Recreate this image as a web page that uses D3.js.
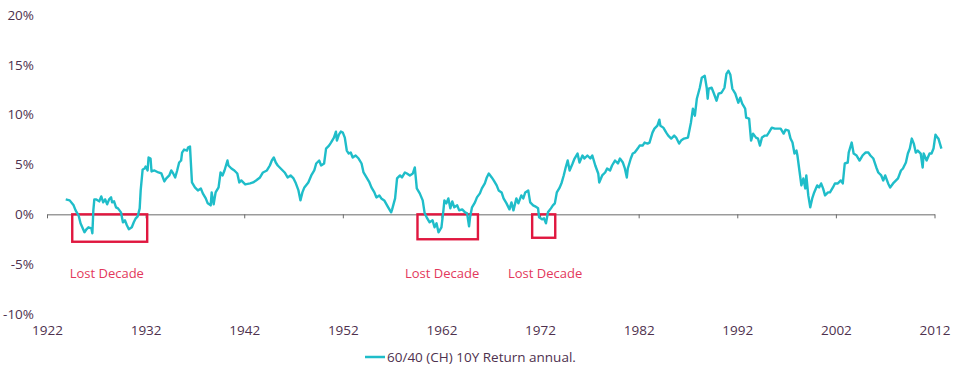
<!DOCTYPE html>
<html>
<head>
<meta charset="utf-8">
<script src="https://cdn.jsdelivr.net/npm/d3@7"></script>
<style>
  body { margin: 0; background: #fff; }
  text { font-family: "Open Sans", sans-serif; }
</style>
</head>
<body>
<div id="chart"></div>
<script>
var width = 960;
var height = 374;

var xTicks = [1922, 1932, 1942, 1952, 1962, 1972, 1982, 1992, 2002, 2012];
var yTicks = [-10, -5, 0, 5, 10, 15, 20];

// 60/40 (CH) 10Y rolling annual return
var years = [
  1923.9, 1924.3, 1924.7, 1924.9, 1925.2, 1925.4, 1925.8, 1926.0, 1926.2, 1926.5,
  1926.6, 1926.7, 1926.8, 1927.0, 1927.3, 1927.5, 1927.7, 1927.9, 1928.1, 1928.3,
  1928.5, 1928.6, 1928.8, 1929.0, 1929.2, 1929.5, 1929.7, 1929.9, 1930.1, 1930.3,
  1930.6, 1930.8, 1931.0, 1931.2, 1931.4, 1931.5, 1931.7, 1931.9, 1932.0, 1932.2,
  1932.3, 1932.5, 1932.6, 1932.9, 1933.3, 1933.6, 1933.9, 1934.1, 1934.4, 1934.6,
  1934.8, 1935.0, 1935.2, 1935.4, 1935.6, 1935.7, 1935.9, 1936.2, 1936.3, 1936.5,
  1936.7, 1937.0, 1937.3, 1937.6, 1937.8, 1938.1, 1938.3, 1938.6, 1938.7, 1938.9,
  1939.1, 1939.4, 1939.6, 1939.8, 1940.0, 1940.3, 1940.4, 1940.7, 1941.0, 1941.3,
  1941.5, 1941.7, 1942.1, 1942.6, 1942.9, 1943.2, 1943.6, 1943.9, 1944.3, 1944.6,
  1944.8, 1945.0, 1945.2, 1945.4, 1945.7, 1946.1, 1946.4, 1946.7, 1947.0, 1947.2,
  1947.5, 1947.7, 1947.9, 1948.1, 1948.5, 1948.8, 1949.1, 1949.3, 1949.6, 1949.8,
  1950.1, 1950.3, 1950.6, 1950.8, 1951.1, 1951.3, 1951.4, 1951.6, 1951.8, 1952.0,
  1952.2, 1952.4, 1952.6, 1952.8, 1953.0, 1953.3, 1953.6, 1953.9, 1954.1, 1954.4,
  1954.7, 1954.9, 1955.2, 1955.4, 1955.7, 1955.9, 1956.2, 1956.6, 1956.9, 1957.0,
  1957.3, 1957.5, 1957.8, 1958.0, 1958.3, 1958.5, 1958.8, 1959.1, 1959.3, 1959.5,
  1959.8, 1960.1, 1960.3, 1960.5, 1960.8, 1961.1, 1961.3, 1961.5, 1961.7, 1962.0,
  1962.2, 1962.3, 1962.5, 1962.7, 1962.9, 1963.1, 1963.3, 1963.6, 1963.8, 1964.1,
  1964.4, 1964.6, 1964.8, 1964.9, 1965.1, 1965.4, 1965.6, 1965.9, 1966.1, 1966.4,
  1966.6, 1966.8, 1967.1, 1967.3, 1967.6, 1967.8, 1968.1, 1968.3, 1968.6, 1968.9,
  1969.1, 1969.3, 1969.6, 1969.8, 1970.1, 1970.3, 1970.5, 1970.8, 1971.0, 1971.3,
  1971.5, 1971.8, 1971.9, 1972.2, 1972.4, 1972.6, 1972.8, 1973.1, 1973.3, 1973.5,
  1973.7, 1974.0, 1974.2, 1974.4, 1974.6, 1974.8, 1975.0, 1975.3, 1975.5, 1975.8,
  1976.0, 1976.3, 1976.5, 1976.8, 1977.1, 1977.3, 1977.6, 1977.9, 1978.0, 1978.3,
  1978.6, 1978.8, 1979.1, 1979.3, 1979.6, 1979.9, 1980.1, 1980.4, 1980.6, 1980.8,
  1980.9, 1981.2, 1981.4, 1981.6, 1981.9, 1982.1, 1982.4, 1982.6, 1982.9, 1983.1,
  1983.4, 1983.6, 1983.9, 1984.1, 1984.2, 1984.5, 1984.8, 1985.0, 1985.3, 1985.6,
  1985.8, 1986.1, 1986.3, 1986.6, 1987.0, 1987.3, 1987.5, 1987.7, 1987.9, 1988.2,
  1988.4, 1988.7, 1988.9, 1989.0, 1989.1, 1989.4, 1989.6, 1989.9, 1990.1, 1990.4,
  1990.7, 1990.9, 1991.1, 1991.3, 1991.5, 1991.8, 1992.1, 1992.3, 1992.5, 1992.8,
  1992.9, 1993.2, 1993.4, 1993.6, 1993.9, 1994.1, 1994.3, 1994.5, 1994.8, 1995.0,
  1995.2, 1995.5, 1995.8, 1996.2, 1996.4, 1996.7, 1996.9, 1997.2, 1997.4, 1997.6,
  1997.8, 1998.0, 1998.1, 1998.3, 1998.5, 1998.7, 1998.9, 1999.0, 1999.2, 1999.4,
  1999.6, 1999.8, 2000.1, 2000.3, 2000.5, 2000.7, 2000.9, 2001.2, 2001.4, 2001.7,
  2001.9, 2002.2, 2002.5, 2002.7, 2002.9, 2003.2, 2003.3, 2003.6, 2003.8, 2004.1,
  2004.4, 2004.7, 2005.0, 2005.3, 2005.5, 2005.8, 2006.1, 2006.3, 2006.6, 2006.8,
  2007.0, 2007.3, 2007.5, 2007.8, 2008.1, 2008.3, 2008.6, 2008.8, 2009.1, 2009.3,
  2009.5, 2009.7, 2009.9, 2010.1, 2010.3, 2010.6, 2010.8, 2010.9, 2011.2, 2011.5,
  2011.7, 2011.9, 2012.1, 2012.3, 2012.4, 2012.7
];
var returns = [
  1.5, 1.4, 0.9, 0.4, -0.1, -0.9, -1.8, -1.5, -1.3, -1.4,
  -1.9, 0.4, 1.5, 1.5, 1.3, 1.8, 1.2, 1.5, 1.0, 1.5,
  1.7, 1.2, 1.3, 0.7, 0.6, 0.2, -0.8, -0.6, -1.1, -1.5,
  -1.3, -0.8, -0.4, -0.2, 0.6, 2.4, 4.5, 4.6, 4.8, 4.4,
  5.7, 5.6, 4.3, 4.4, 4.2, 4.1, 3.3, 3.6, 3.9, 4.4,
  4.1, 3.7, 4.4, 5.2, 5.4, 6.2, 6.5, 6.4, 6.7, 6.8,
  3.2, 2.7, 2.4, 2.6, 2.1, 1.6, 1.1, 0.9, 2.2, 1.0,
  2.2, 2.7, 4.2, 3.9, 4.4, 5.4, 4.9, 4.6, 4.4, 4.1,
  3.2, 3.4, 3.0, 3.1, 3.2, 3.4, 3.7, 4.2, 4.4, 4.9,
  5.4, 5.7, 5.2, 4.9, 4.6, 4.2, 3.7, 3.9, 3.6, 3.2,
  2.4, 1.4, 2.2, 2.7, 3.2, 3.9, 4.4, 5.1, 5.4, 4.9,
  5.1, 6.6, 6.9, 7.2, 7.7, 8.3, 7.4, 8.0, 8.3, 8.2,
  7.7, 6.4, 6.1, 6.2, 5.7, 5.9, 5.6, 5.1, 4.2, 3.7,
  3.2, 2.7, 2.2, 1.7, 1.9, 1.6, 1.4, 0.7, 0.2, 0.5,
  1.6, 3.6, 3.9, 3.7, 4.2, 4.1, 3.9, 4.1, 4.7, 2.6,
  2.1, 1.4, 0.1, -0.3, -0.8, -0.6, -1.3, -0.9, -1.8, -1.3,
  0.4, 1.4, 1.1, 1.6, 0.6, 1.3, 0.7, 0.9, 0.4, 0.5,
  0.2, 0.1, -1.2, -0.3, 0.7, 1.2, 1.7, 2.1, 2.6, 3.1,
  3.7, 4.1, 3.7, 3.4, 2.9, 2.4, 2.2, 1.6, 1.1, 0.5,
  1.2, 0.4, 1.6, 1.1, 1.9, 1.6, 2.2, 2.4, 1.2, 0.9,
  0.8, 0.6, -0.3, -0.5, -0.4, -0.9, 0.2, 0.6, 0.9, 1.1,
  2.2, 2.7, 3.2, 3.9, 4.7, 5.4, 4.4, 5.1, 5.6, 6.1,
  5.2, 5.9, 5.6, 5.9, 5.6, 5.9, 4.9, 4.1, 3.2, 3.9,
  4.2, 4.6, 4.4, 4.9, 5.4, 5.1, 5.6, 5.2, 4.6, 3.7,
  4.6, 5.6, 6.1, 6.2, 6.6, 6.9, 6.9, 7.2, 7.1, 7.2,
  8.2, 8.6, 8.9, 9.5, 8.9, 8.7, 8.2, 7.9, 7.6, 7.9,
  7.7, 7.1, 7.4, 7.6, 7.7, 9.2, 10.6, 9.9, 11.6, 12.7,
  13.7, 13.9, 12.7, 11.6, 12.6, 12.7, 12.2, 11.4, 12.1, 12.2,
  12.7, 14.1, 14.4, 14.0, 12.6, 12.1, 11.2, 11.7, 11.1, 10.6,
  9.7, 9.6, 7.4, 8.1, 7.7, 7.6, 6.9, 7.7, 7.9, 7.9,
  8.2, 8.7, 8.6, 8.6, 8.6, 8.1, 8.5, 8.4, 7.6, 7.2,
  6.1, 6.4, 5.9, 4.4, 2.9, 3.6, 2.6, 3.9, 1.9, 0.7,
  1.6, 2.2, 2.9, 2.7, 3.1, 2.6, 1.9, 2.2, 2.2, 2.7,
  3.1, 3.1, 3.4, 3.1, 5.1, 5.2, 6.2, 7.2, 6.1, 5.9,
  5.4, 5.9, 6.2, 6.2, 5.9, 5.6, 4.7, 4.2, 3.9, 3.4,
  3.9, 3.1, 2.7, 3.1, 3.4, 3.6, 4.4, 4.6, 5.2, 6.1,
  6.6, 7.6, 7.1, 6.2, 6.4, 6.1, 4.7, 6.1, 5.4, 6.1,
  6.1, 6.6, 8.0, 7.7, 7.6, 6.6
];

// lost decade boxes: start year, end year, lowest value
var boxStart = [1924.56, 1959.57, 1971.2];
var boxEnd = [1932.16, 1965.7, 1973.54];
var boxLow = [-2.75, -2.5, -2.35];
var boxLabelYear = [1924.3, 1958.3, 1968.75];
var boxLabel = "Lost Decade";

var seriesName = "60/40 (CH) 10Y Return annual.";

var teal = "#1fbdc9";
var red = "#e0173f";
var textColor = "#4e314e";

var svg = d3.select("#chart")
  .append("svg")
  .attr("width", width)
  .attr("height", height);

var xScale = d3.scaleLinear()
  .domain([1922, 2012])
  .range([47, 934.5]);

var yScale = d3.scaleLinear()
  .domain([-10, 20])
  .range([314, 15]);

// zero line with decade ticks
var zeroAxis = svg.append("g")
  .attr("transform", `translate(0,${yScale(0)})`)
  .call(d3.axisBottom(xScale).tickValues(xTicks).tickSize(4).tickSizeOuter(0).tickFormat(""));
zeroAxis.selectAll("path, line").attr("stroke", "#6b6b6b");

// year labels at the bottom
var xAxis = svg.append("g")
  .attr("transform", "translate(0,325)")
  .call(d3.axisBottom(xScale).tickValues(xTicks).tickSize(0).tickPadding(0).tickFormat(d3.format("d")));
xAxis.select(".domain").remove();
xAxis.selectAll("text")
  .attr("fill", textColor)
  .style("font-size", "13.5px")
  .style("font-family", "'Open Sans', sans-serif");

var yAxis = svg.append("g")
  .attr("transform", "translate(34,0)")
  .call(d3.axisLeft(yScale).tickValues(yTicks).tickSize(0).tickPadding(0).tickFormat(function(d) { return d + "%"; }));
yAxis.select(".domain").remove();
yAxis.selectAll("text")
  .attr("fill", textColor)
  .style("font-size", "13.5px")
  .style("font-family", "'Open Sans', sans-serif");

var points = years.map(function(y, i) { return {year: y, value: returns[i]}; });

var line = d3.line()
  .x(function(d) { return xScale(d.year); })
  .y(function(d) { return yScale(d.value); });

// boxes
var boxes = boxStart.map(function(s, i) {
  return {start: s, end: boxEnd[i], low: boxLow[i], labelYear: boxLabelYear[i]};
});

svg.selectAll("rect.box")
  .data(boxes)
  .enter()
  .append("rect")
    .attr("class", "box")
    .attr("x", function(d) { return xScale(d.start); })
    .attr("y", yScale(0))
    .attr("width", function(d) { return xScale(d.end) - xScale(d.start); })
    .attr("height", function(d) { return yScale(d.low) - yScale(0); })
    .attr("fill", "none")
    .attr("stroke", red)
    .attr("stroke-width", 2.4);

svg.append("path")
  .datum(points)
  .attr("d", line)
  .attr("fill", "none")
  .attr("stroke", teal)
  .attr("stroke-width", 2.4)
  .attr("stroke-linejoin", "round");

svg.selectAll("text.lost")
  .data(boxes)
  .enter()
  .append("text")
    .attr("class", "lost")
    .attr("x", function(d) { return xScale(d.labelYear); })
    .attr("y", yScale(-5.9))
    .attr("dominant-baseline", "central")
    .attr("fill", "#e3385c")
    .style("font-size", "13px")
    .text(boxLabel);

// legend
svg.append("line")
  .attr("x1", 365).attr("x2", 385)
  .attr("y1", 357).attr("y2", 357)
  .attr("stroke", teal)
  .attr("stroke-width", 2.5);

svg.append("text")
  .attr("x", 387)
  .attr("y", 357)
  .attr("dominant-baseline", "central")
  .attr("fill", textColor)
  .style("font-size", "13.5px")
  .text(seriesName);
</script>
</body>
</html>
